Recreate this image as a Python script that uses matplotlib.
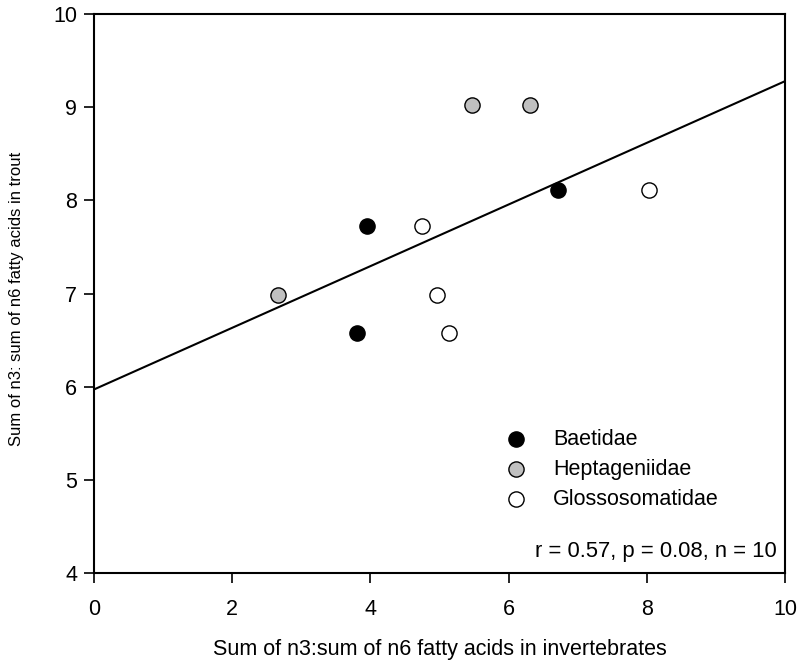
import numpy as np
import matplotlib.pyplot as plt

plt.rcParams['font.family'] = ['Liberation Sans', 'DejaVu Sans']

# Data
baet_x = [3.95, 3.81, 6.72]
baet_y = [7.73, 6.58, 8.11]
hept_x = [5.47, 6.31, 2.66]
hept_y = [9.02, 9.02, 6.98]
glos_x = [4.74, 4.97, 5.13, 8.03]
glos_y = [7.73, 6.98, 6.58, 8.11]

# regression line endpoints
line_x = [0, 10]
line_y = [5.97, 9.28]

fig = plt.figure(figsize=(7.99, 6.70), dpi=100)
ax = fig.add_axes([0.1176, 0.1448, 0.865, 0.8342])

ax.plot(line_x, line_y, color='black', lw=1.5, zorder=1)

kw = dict(s=120, edgecolors='black', linewidths=1.0, zorder=3)
ax.scatter(baet_x, baet_y, facecolors='black', label='Baetidae', **kw)
ax.scatter(hept_x, hept_y, facecolors='#c0c0c0', label='Heptageniidae', **kw)
ax.scatter(glos_x, glos_y, facecolors='white', label='Glossosomatidae', **kw)

ax.set_xlim(0, 10)
ax.set_ylim(4, 10)
ax.set_xticks([0, 2, 4, 6, 8, 10])
ax.set_yticks([4, 5, 6, 7, 8, 9, 10])
ax.tick_params(direction='out', length=7, width=1.2, labelsize=15.5)
ax.tick_params(axis='x', pad=12)
ax.tick_params(axis='y', pad=5)
for s in ax.spines.values():
    s.set_linewidth(1.5)

ax.set_xlabel('Sum of n3:sum of n6 fatty acids in invertebrates', fontsize=15.5)
ax.xaxis.set_label_coords(0.5, -0.118)
ax.set_ylabel('Sum of n3: sum of n6 fatty acids in trout', fontsize=12)
ax.yaxis.set_label_coords(-0.101, 0.49)

ax.legend(loc='upper left', bbox_to_anchor=(0.58, 0.258), frameon=False,
          fontsize=15.5, handletextpad=0.7, labelspacing=0.42, borderaxespad=0,
          borderpad=0)

ax.text(0.988, 0.029, 'r = 0.57, p = 0.08, n = 10', transform=ax.transAxes,
        ha='right', va='baseline', fontsize=15.8)

fig.savefig('out.png', dpi=100)
